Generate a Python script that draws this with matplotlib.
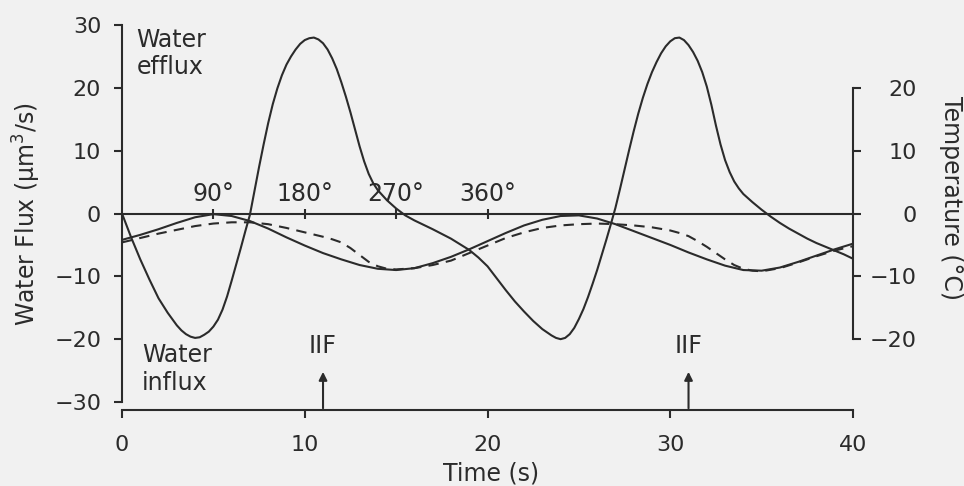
import matplotlib
matplotlib.use('Agg')
import matplotlib.pyplot as plt
import numpy as np

# water flux (um3/s)
flux_t = [0, 0.5, 1.0, 1.5, 2.0, 2.5, 3.0, 3.25, 3.5, 3.75, 4.0, 4.25, 4.5, 4.75,
          5.0, 5.25, 5.5, 5.75, 6.0, 6.25, 6.5, 6.75, 7.0, 7.25, 7.5, 7.75, 8.0,
          8.25, 8.5, 8.75, 9.0, 9.25, 9.5, 9.75, 10.0, 10.25, 10.5, 10.75, 11.0,
          11.25, 11.5, 11.75, 12.0, 12.25, 12.5, 12.75, 13.0, 13.25, 13.5, 13.75,
          14.0, 14.5, 15.0, 15.5, 16.0, 17.0, 18.0, 19.0, 19.5, 20.0, 20.5, 21.0,
          21.5, 22.0, 22.5, 23.0, 23.5, 23.75, 24.0, 24.25, 24.5, 24.75, 25.0,
          25.25, 25.5, 25.75, 26.0, 26.25, 26.5, 26.75, 27.0, 27.25, 27.5, 27.75,
          28.0, 28.25, 28.5, 28.75, 29.0, 29.25, 29.5, 29.75, 30.0, 30.25, 30.5,
          30.75, 31.0, 31.25, 31.5, 31.75, 32.0, 32.25, 32.5, 32.75, 33.0, 33.25,
          33.5, 33.75, 34.0, 34.5, 35.0, 35.5, 36.0, 36.5, 37.0, 37.5, 38.0, 38.5,
          39.0, 39.5, 40.0]
flux = [0, -3.8, -7.3, -10.5, -13.5, -15.8, -17.8, -18.6, -19.2, -19.6, -19.8,
        -19.7, -19.3, -18.8, -18.0, -16.9, -15.3, -13.2, -10.7, -8.1, -5.5, -2.8,
        -0.2, 3.6, 7.4, 11.0, 14.4, 17.4, 19.9, 22.0, 23.7, 25.0, 26.1, 27.0,
        27.6, 27.9, 28.0, 27.7, 27.1, 26.1, 24.7, 23.0, 20.9, 18.6, 16.1, 13.4,
        10.7, 8.3, 6.3, 4.8, 3.7, 2.1, 0.8, -0.3, -1.1, -2.5, -4.0, -5.8, -7.0,
        -8.4, -10.3, -12.2, -14.0, -15.6, -17.1, -18.4, -19.4, -19.8, -20.0,
        -19.8, -19.2, -18.2, -16.8, -15.2, -13.3, -11.2, -9.0, -6.6, -4.2, -1.7,
        0.9, 3.9, 7.0, 10.1, 13.1, 15.9, 18.4, 20.6, 22.5, 24.1, 25.5, 26.6,
        27.4, 27.9, 28.0, 27.6, 26.8, 25.7, 24.3, 22.5, 20.2, 17.3, 14.0, 11.0,
        8.5, 6.6, 5.1, 4.0, 3.1, 1.8, 0.6, -0.5, -1.5, -2.4, -3.2, -4.0, -4.7,
        -5.3, -5.9, -6.5, -7.2]

# temperature (solid) and second temperature trace (dashed), deg C
temp_t = list(range(0, 41))
temp = [-4.2, -3.4, -2.5, -1.5, -0.6, -0.1, -0.4, -1.2, -2.4, -3.8, -5.1, -6.3,
        -7.3, -8.2, -8.8, -9.0, -8.7, -7.9, -6.9, -5.7, -4.4, -3.1, -1.9, -1.0,
        -0.4, -0.3, -0.8, -1.7, -2.8, -3.9, -5.0, -6.2, -7.3, -8.3, -9.0, -9.1,
        -8.6, -7.7, -6.7, -5.7, -4.8]
temp2_t = [0, 1, 2, 3, 4, 5, 6, 7, 8, 9, 10, 11, 11.5, 12, 12.5, 13, 13.5, 14,
           14.5, 15, 16, 17, 18, 19, 20, 21, 22, 23, 24, 25, 26, 27, 28, 29, 30,
           30.5, 31, 31.5, 32, 32.5, 33, 33.5, 34, 34.5, 35, 36, 37, 38, 39, 40]
temp2 = [-4.6, -3.9, -3.2, -2.6, -2.0, -1.6, -1.4, -1.4, -1.7, -2.3, -3.0, -3.7,
         -4.1, -4.6, -5.5, -6.6, -7.7, -8.4, -8.8, -8.9, -8.7, -8.2, -7.5, -6.3,
         -5.1, -3.9, -3.0, -2.3, -1.9, -1.7, -1.6, -1.7, -1.9, -2.2, -2.7, -3.1,
         -3.6, -4.4, -5.3, -6.3, -7.3, -8.2, -8.8, -9.1, -9.2, -8.7, -7.8, -6.8,
         -5.9, -5.2]

phase_t = [5, 10, 15, 20]
phase_labels = ['90°', '180°', '270°', '360°']
iif_t = [11.0, 31.0]

ink = '#2b2b2b'
bg = '#f1f1f1'
lw = 1.5

fig = plt.figure(figsize=(9.64, 4.86), dpi=100, facecolor=bg)
ax = fig.add_axes([122/964, 1 - 402/486, 731/964, 377/486])
ax.set_facecolor('none')
ax2 = ax.twinx()
ax2.set_facecolor('none')

ax.set_xlim(0, 40)
ax.set_ylim(-30, 30)
ax2.set_ylim(-30, 30)

ax.plot(flux_t, flux, color=ink, lw=lw)
ax.axhline(0, color=ink, lw=lw)
ax.plot(phase_t, [0] * 4, ls='none', marker='|', ms=7, mew=lw, color=ink)
for t, s in zip(phase_t, phase_labels):
    ax.text(t, 2.0, s, ha='center', va='baseline', fontsize=17, color=ink)

ax2.plot(temp_t, temp, color=ink, lw=lw)
ax2.plot(temp2_t, temp2, color=ink, lw=lw, dashes=(5, 3.5))

for t in iif_t:
    ax.annotate('', xy=(t, -25.2), xytext=(t, -31.0),
                arrowprops=dict(arrowstyle='-|>', color=ink, lw=lw,
                                mutation_scale=12, shrinkA=0, shrinkB=0),
                annotation_clip=False)
    ax.text(t, -22.2, 'IIF', ha='center', va='baseline', fontsize=17, color=ink)

ax.text(0.8, 29.6, 'Water\nefflux', ha='left', va='top', fontsize=17, color=ink)
ax.text(1.1, -20.6, 'Water\ninflux', ha='left', va='top', fontsize=17, color=ink)

# spines
for s in ['top', 'right']:
    ax.spines[s].set_visible(False)
for s in ['top', 'left', 'bottom']:
    ax2.spines[s].set_visible(False)
ax.spines['left'].set_bounds(-30, 30)
ax.spines['bottom'].set_bounds(0, 40)
ax.spines['bottom'].set_position(('outward', 6))
ax2.spines['right'].set_bounds(-20, 20)
for sp in [ax.spines['left'], ax.spines['bottom'], ax2.spines['right']]:
    sp.set_color(ink)
    sp.set_linewidth(lw)

ax.set_xticks([0, 10, 20, 30, 40])
ax.set_yticks([-30, -20, -10, 0, 10, 20, 30])
ax2.set_yticks([-20, -10, 0, 10, 20])
ax.tick_params(axis='y', length=6, width=lw, color=ink, labelcolor=ink,
               labelsize=16, pad=9)
ax.tick_params(axis='x', length=6, width=lw, color=ink, labelcolor=ink,
               labelsize=16, pad=12)
ax2.tick_params(axis='y', length=6, width=lw, color=ink, labelcolor=ink,
                labelsize=16, pad=40)
for lab in ax2.get_yticklabels():
    lab.set_horizontalalignment('right')

fig.text(27/964, 1 - 214/486, 'Water Flux (μm$^3$/s)', rotation=90,
         ha='center', va='center', fontsize=17, color=ink)
fig.text(951/964, 1 - 198/486, 'Temperature (°C)', rotation=270,
         ha='center', va='center', fontsize=17, color=ink)
fig.text(491/964, 1 - 473/486, 'Time (s)', ha='center', va='center',
         fontsize=17, color=ink)

fig.savefig('out.png', dpi=100, facecolor=bg)
